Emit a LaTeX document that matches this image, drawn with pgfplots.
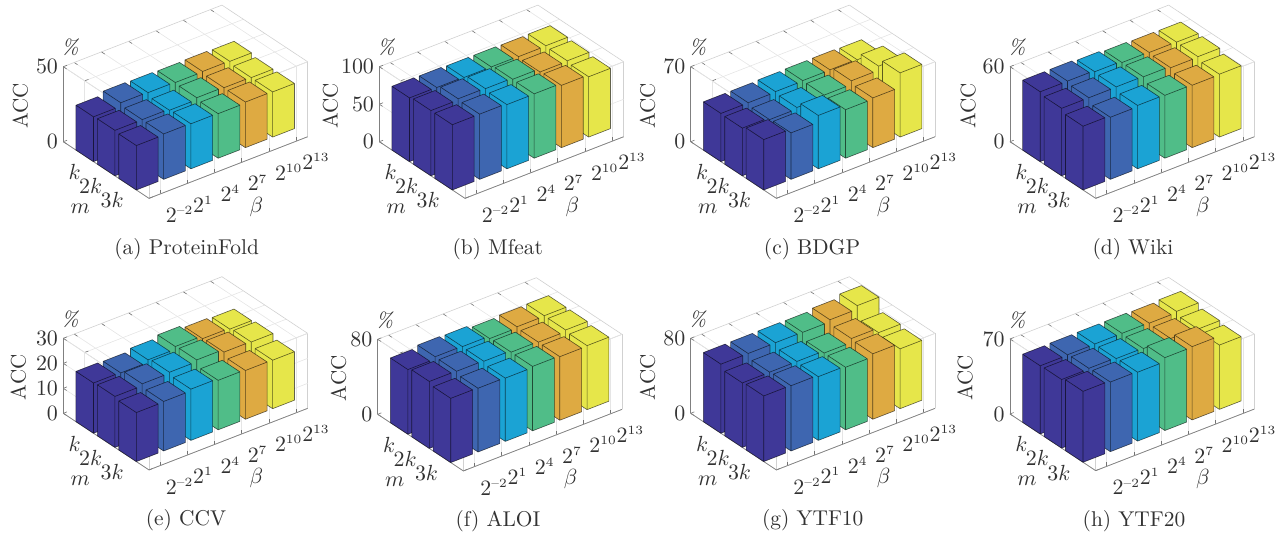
\documentclass[border=0pt]{standalone}
\usepackage{pgfplots}
\pgfplotsset{compat=1.18}
\definecolor{barA}{RGB}{63,56,152}
\definecolor{barB}{RGB}{62,102,176}
\definecolor{barC}{RGB}{27,163,212}
\definecolor{barD}{RGB}{80,189,136}
\definecolor{barE}{RGB}{222,170,66}
\definecolor{barF}{RGB}{230,230,74}
\definecolor{txt}{RGB}{50,50,50}
% x0,x1,y0,y1,value,colour: top and the two visible faces of one bar
\newcommand\onebar[6]{%
 \addplot3[forget plot,mark=none,fill=#6,draw=black,draw opacity=0.6,line width=0.3pt,line join=round] coordinates {
 (#1,#3,0) (#1,#3,#5) (#2,#3,#5) (#2,#4,#5) (#2,#4,0) (#1,#4,0) (#1,#4,#5) (#1,#3,#5)
 (#1,#4,#5) (#2,#4,#5) (#1,#4,#5) (#1,#4,0) (#1,#3,0)
 };}
% #1 #2 = extent in m; then values for beta 6,5,4,3,2,1 (drawn back to front)
\newcommand\rowbars[8]{%
 \onebar{5.0}{5.8}{#1}{#2}{#3}{barF}
 \onebar{4.0}{4.8}{#1}{#2}{#4}{barE}
 \onebar{3.0}{3.8}{#1}{#2}{#5}{barD}
 \onebar{2.0}{2.8}{#1}{#2}{#6}{barC}
 \onebar{1.0}{1.8}{#1}{#2}{#7}{barB}
 \onebar{0.0}{0.8}{#1}{#2}{#8}{barA}
}
\newcommand\lab{\fontsize{10.5}{11}\selectfont}
\newcommand\sups[1]{^{\mbox{\fontsize{6.3}{6.3}\selectfont #1}}}
\newcommand\panel[8]{%
 \pgfmathsetmacro\zu{37.5/#3}
 \begin{axis}[
  at={(#1*0.5pt,{(533-#2)*0.5pt})},anchor=origin,
  x={(13.63pt,5.29pt)},y={(10.71pt,-7.08pt)},z={(0pt,\zu pt)},
  xmin=0,xmax=5.82,ymin=0,ymax=4,zmin=0,zmax=#3,
  clip=false,
  xtick={0.4,1.4,2.4,3.4,4.4,5.4},
  xticklabels={$2\sups{--2}$,$2\sups{1}$,$2\sups{4}$,$2\sups{7}$,$2\sups{10}$,$2\sups{13}$},
  ytick={1,2,3},yticklabels={$k$,$2k$,$3k$},
  ztick={#4},
  tick pos=left,
  grid=major,grid style={black!10,line width=0.3pt},
  axis line style={black!18,line width=0.3pt},
  tick style={black!55,line width=0.3pt},
  major tick length=2pt,tick align=inside,
  tick label style={font=\lab,text=txt},
  xticklabel style={anchor=west,inner sep=0pt,xshift=2.85pt,yshift=-10.2pt},
  yticklabel style={anchor=east,inner sep=0pt,xshift=-1.75pt,yshift=-8pt},
  zticklabel style={anchor=east,inner sep=0pt,xshift=-2.5pt},
 ]
 \addplot3[forget plot,mark=none,draw=black!50,line width=0.35pt] coordinates {(0,0,0) (0,4,0) (5.82,4,0)};
 \addplot3[forget plot,mark=none,draw=black!50,line width=0.35pt] coordinates {(0,0,0) (0,0,#3)};
 #8
 \end{axis}
 \begin{scope}[shift={(#1*0.5pt,{(533-#2)*0.5pt})}]
 \node[rotate=90,text=txt,font=\lab] at (#5*0.5pt,18pt) {ACC};
 \node[text=txt,font=\lab] at (3.5pt,47pt) {\textit{\%}};
 \node[text=txt,font=\lab] at (8.5pt,-33.5pt) {$m$};
 \node[text=txt,font=\lab] at (96.5pt,-32.5pt) {$\beta$};
 \end{scope}
 \node[text=txt,font=\fontsize{10.7}{11}\selectfont] at (#6*0.5pt,{(533-#2-107)*0.5pt}) {#7};
}
% data rows: m = k, 2k, 3k; beta from 2^13 down to 2^-2
\def\dataA{
 \rowbars{0.59}{1.41}{31.6}{31.9}{31.6}{31.9}{32.2}{29.9}
 \rowbars{1.59}{2.41}{30.2}{30.5}{30.9}{29.6}{30.4}{30.3}
 \rowbars{2.59}{3.41}{30.1}{30.4}{29.7}{30.0}{30.3}{29.6}}
\def\dataB{
 \rowbars{0.59}{1.41}{84.0}{83.6}{84.0}{84.0}{84.7}{85.0}
 \rowbars{1.59}{2.41}{82.8}{82.0}{86.4}{88.0}{88.6}{87.0}
 \rowbars{2.59}{3.41}{80.4}{83.0}{85.8}{85.6}{87.0}{87.0}}
\def\dataC{
 \rowbars{0.59}{1.41}{45.7}{46.2}{46.0}{45.6}{45.1}{45.0}
 \rowbars{1.59}{2.41}{53.0}{49.2}{45.7}{44.0}{42.6}{44.5}
 \rowbars{2.59}{3.41}{59.9}{46.4}{45.3}{49.8}{43.4}{47.0}}
\def\dataD{
 \rowbars{0.59}{1.41}{53.3}{53.5}{53.9}{55.0}{56.0}{55.9}
 \rowbars{1.59}{2.41}{53.0}{52.6}{53.8}{54.2}{54.0}{54.0}
 \rowbars{2.59}{3.41}{50.3}{49.9}{50.3}{50.7}{49.7}{51.0}}
\def\dataE{
 \rowbars{0.59}{1.41}{20.5}{20.9}{22.0}{20.9}{19.9}{20.1}
 \rowbars{1.59}{2.41}{21.0}{21.2}{22.3}{21.6}{21.2}{20.4}
 \rowbars{2.59}{3.41}{19.4}{19.5}{19.8}{20.5}{19.8}{19.6}}
\def\dataF{
 \rowbars{0.59}{1.41}{70.0}{69.5}{68.2}{70.9}{71.4}{69.0}
 \rowbars{1.59}{2.41}{69.9}{68.2}{68.8}{70.4}{71.0}{71.4}
 \rowbars{2.59}{3.41}{68.3}{67.8}{68.7}{67.5}{68.0}{68.5}}
\def\dataG{
 \rowbars{0.59}{1.41}{79.7}{75.9}{73.8}{74.0}{73.8}{73.7}
 \rowbars{1.59}{2.41}{66.0}{71.0}{66.8}{69.1}{69.0}{68.8}
 \rowbars{2.59}{3.41}{63.8}{69.8}{66.7}{68.0}{69.6}{70.0}}
\def\dataH{
 \rowbars{0.59}{1.41}{65.0}{63.9}{64.3}{64.2}{64.0}{63.6}
 \rowbars{1.59}{2.41}{61.7}{62.8}{63.3}{63.8}{64.6}{64.0}
 \rowbars{2.59}{3.41}{60.0}{68.4}{68.0}{64.3}{65.0}{66.2}}
\begin{document}
\begin{tikzpicture}
\useasboundingbox (0,0) rectangle (641pt,266.5pt);
\panel{63.3}{141.7}{50}{0,50}{-43}{186.7}{(a) ProteinFold}{\dataA}
\panel{379.3}{141.7}{100}{0,50,100}{-49}{497.7}{(b) Mfeat}{\dataB}
\panel{690.7}{141.7}{70}{0,70}{-43}{812}{(c) BDGP}{\dataC}
\panel{1010}{141.7}{60}{0,60}{-42}{1133}{(d) Wiki}{\dataD}
\panel{63.3}{413.3}{30}{0,10,20,30}{-45}{186}{(e) CCV}{\dataE}
\panel{377.7}{414.3}{80}{0,80}{-39}{498}{(f) ALOI}{\dataF}
\panel{690.7}{413.3}{80}{0,80}{-43}{812.7}{(g) YTF10}{\dataG}
\panel{1010}{414}{70}{0,70}{-45}{1134}{(h) YTF20}{\dataH}
\end{tikzpicture}
\end{document}
